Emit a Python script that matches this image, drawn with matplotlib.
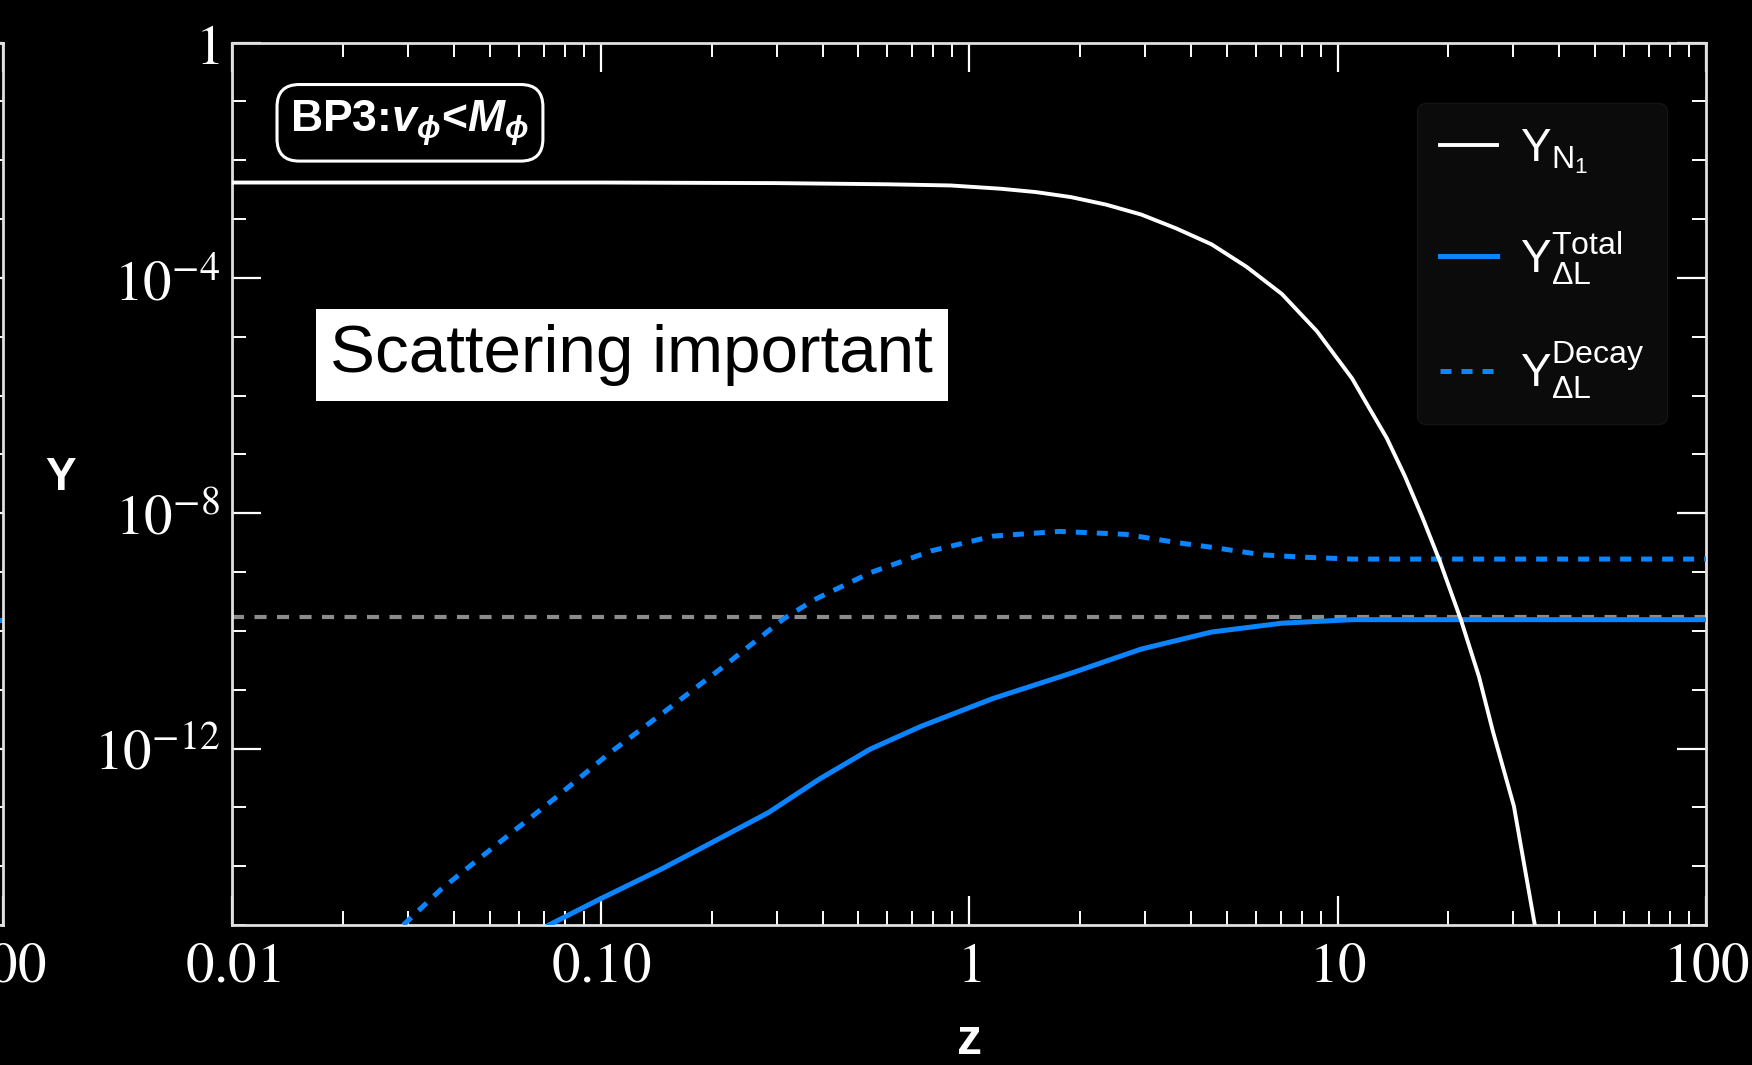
import numpy as np
import matplotlib
matplotlib.use("Agg")
import matplotlib.pyplot as plt
from matplotlib.ticker import FixedLocator, FixedFormatter, NullFormatter

plt.rcParams['mathtext.fontset'] = 'stix'
plt.rcParams['mathtext.rm'] = 'Liberation Sans'
plt.rcParams['mathtext.it'] = 'Liberation Sans:italic'
plt.rcParams['mathtext.bf'] = 'Liberation Sans:bold'
plt.rcParams['mathtext.bfit'] = 'Liberation Sans:italic:bold'
plt.rcParams['mathtext.fallback'] = 'stixsans'

# values: z and log10(Y)
z_N1 = [0.01, 0.1, 0.3, 0.6, 0.89, 1.22, 1.52, 1.89, 2.35, 2.93, 3.65, 4.55,
        5.66, 7.06, 8.79, 10.95, 12.2, 13.6, 15.2, 17.0, 19.0, 21.6, 24.2,
        26.4, 30.1, 34.3]
logY_N1 = [-2.38, -2.38, -2.39, -2.41, -2.43, -2.486, -2.543, -2.628, -2.755,
           -2.924, -3.161, -3.431, -3.812, -4.275, -4.908, -5.711, -6.219,
           -6.725, -7.36, -8.076, -8.837, -9.808, -10.78, -11.71, -12.98, -15.0]

z_total = [0.0723, 0.0994, 0.146, 0.200, 0.285, 0.392, 0.539, 0.742, 1.16,
           1.87, 2.93, 4.55, 7.06, 10.95, 100]
logY_total = [-15.0, -14.56, -14.05, -13.60, -13.09, -12.52, -12.01, -11.62,
              -11.15, -10.73, -10.31, -10.02, -9.87, -9.81, -9.81]

z_decay = [0.0291, 0.0369, 0.0525, 0.0746, 0.106, 0.150, 0.214, 0.313, 0.38,
           0.54, 0.79, 1.16, 1.76, 2.66, 3.66, 4.55, 6.3, 8.2, 10.95, 100]
logY_decay = [-15.0, -14.39, -13.62, -12.86, -12.07, -11.36, -10.62, -9.80,
              -9.47, -9.01, -8.64, -8.39, -8.31, -8.36, -8.50, -8.58, -8.71,
              -8.75, -8.78, -8.78]

Y_obs = 1.7e-10   # grey dashed reference line

# tail of the neighbouring panel that peeks in at the left edge
z_prev = [10, 100]
Y_prev = [1.55e-10, 1.55e-10]

x_ticks = [0.01, 0.1, 1, 10, 100]
x_labels = ['$0.01$', '$0.10$', '$1$', '$10$', '$100$']
y_ticks = [1, 1e-4, 1e-8, 1e-12]
y_labels = ['$1$', '$10^{-4}$', '$10^{-8}$', '$10^{-12}$']

blue = '#0a84ff'
W, H = 1752, 1065
fig = plt.figure(figsize=(W / 100, H / 100), dpi=100, facecolor='black')

left, right, top, bottom = 232.4, 1706, 42.5, 925


def style_axes(ax):
    ax.set_facecolor('black')
    ax.set_xscale('log')
    ax.set_yscale('log')
    ax.set_xlim(0.01, 100)
    ax.set_ylim(1e-15, 1)
    for s in ax.spines.values():
        s.set_color('#e0e0e0')
        s.set_linewidth(2.0)
    ax.xaxis.set_major_locator(FixedLocator(x_ticks))
    ax.xaxis.set_major_formatter(FixedFormatter(x_labels))
    minx = [m * d for d in [0.01, 0.1, 1, 10] for m in range(2, 10)]
    ax.xaxis.set_minor_locator(FixedLocator(minx))
    ax.xaxis.set_minor_formatter(NullFormatter())
    ax.yaxis.set_major_locator(FixedLocator(y_ticks))
    ax.yaxis.set_major_formatter(FixedFormatter(y_labels))
    miny = [10.0 ** k for k in range(-15, 1) if k % 4 != 0]
    ax.yaxis.set_minor_locator(FixedLocator(miny))
    ax.yaxis.set_minor_formatter(NullFormatter())
    ax.tick_params(which='both', direction='in', top=True, right=True,
                   colors='white', labelcolor='white', labelsize=41)
    ax.tick_params(which='major', length=21, width=1.6)
    ax.tick_params(which='minor', length=10, width=1.4)
    ax.tick_params(axis='x', pad=10)
    ax.tick_params(axis='y', pad=9)


# partial neighbouring panel
ax0 = fig.add_axes([-0.4, 1 - bottom / H, 0.4 + 2.7 / W, (bottom - top) / H])
style_axes(ax0)
ax0.tick_params(labelleft=False)
ax0.plot(z_prev, Y_prev, color=blue, lw=3.6)

ax = fig.add_axes([left / W, 1 - bottom / H, (right - left) / W, (bottom - top) / H])
style_axes(ax)

ax.axhline(Y_obs, color='#8c8c8c', lw=3.0, dashes=(2.9, 2.5), zorder=2)
l2, = ax.plot(z_total, 10.0 ** np.array(logY_total), color=blue, lw=3.6, zorder=3,
              solid_joinstyle='round',
              label=r'$\mathrm{Y}_{\Delta \mathrm{L}}^{\mathrm{Total}}$')
l3, = ax.plot(z_decay, 10.0 ** np.array(logY_decay), color=blue, lw=3.6,
              dashes=(2.2, 2.0), zorder=3,
              label=r'$\mathrm{Y}_{\Delta \mathrm{L}}^{\mathrm{Decay}}$')
l1, = ax.plot(z_N1, 10.0 ** np.array(logY_N1), color='white', lw=2.8, zorder=4,
              solid_joinstyle='round', label=r'$\mathrm{Y}_{\mathrm{N}_1}$')

leg = ax.legend(handles=[l1, l2, l3], loc='upper right',
                bbox_to_anchor=((1667 - left) / (right - left), (bottom - 103) / (bottom - top)),
                fontsize=33, frameon=True, facecolor='#0b0b0b', edgecolor='#141414',
                framealpha=1, fancybox=True, handlelength=1.25, handletextpad=0.5,
                labelspacing=1.16, borderpad=0.5, borderaxespad=0)
for t in leg.get_texts():
    t.set_color('white')
    t.set_math_fontfamily('custom')

ax.set_xlabel('z', fontsize=36, fontweight='bold', color='white',
              family='Liberation Sans', va='center')
ax.xaxis.set_label_coords(0.5, (bottom - 1041) / (bottom - top))
ax.set_ylabel('Y', fontsize=33, fontweight='bold', color='white', rotation=0,
              family='Liberation Sans', va='center', ha='center')
ax.yaxis.set_label_coords((61 - left) / (right - left), (bottom - 478) / (bottom - top))

bp = ax.text(0.1205, 0.909, r'BP3:$\mathbfit{v}_{\mathbfit{\phi}}$<$\mathbfit{M}_{\mathbfit{\phi}}$',
             transform=ax.transAxes, ha='center', va='center', fontsize=32,
             fontweight='bold', family='Liberation Sans', color='white',
             bbox=dict(boxstyle='round,pad=0.3,rounding_size=0.5', fc='black',
                       ec='white', lw=2.2))
bp.set_math_fontfamily('custom')

ax.text(0.271, 0.646, 'Scattering important', transform=ax.transAxes,
        ha='center', va='center', fontsize=48.5, family='Liberation Sans',
        color='black', bbox=dict(boxstyle='square,pad=0.22', fc='white', ec='none'))

fig.savefig('out.png', dpi=100, facecolor='black')
